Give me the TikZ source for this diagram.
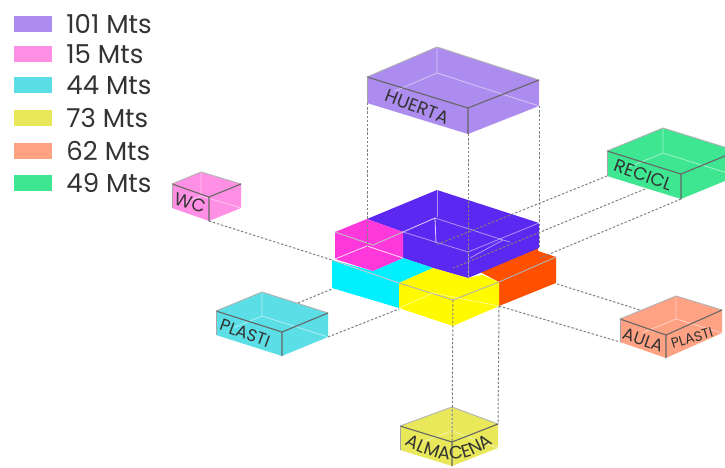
\documentclass[tikz,border=0pt]{standalone}
\usepackage{fontspec}
\setmainfont{Poppins}
\usetikzlibrary{positioning, calc, decorations.text}
\definecolor{huertacol}{HTML}{AC8CEE}
\definecolor{wccol}{HTML}{FF8FE4}
\definecolor{plasticol}{HTML}{5CDEE6}
\definecolor{almacol}{HTML}{E8E85A}
\definecolor{aulacol}{HTML}{FFA284}
\definecolor{reciclcol}{HTML}{3EE692}
\definecolor{moradofuerte}{HTML}{5A28F0}
\definecolor{rosafuerte}{HTML}{FF38DC}
\definecolor{cianfuerte}{HTML}{00F0FF}
\definecolor{amarillofuerte}{HTML}{FFFA00}
\definecolor{naranjafuerte}{HTML}{FF5000}
\definecolor{tinta}{HTML}{333333}
\tikzset{
    guia/.style={draw=black!50, line width=1pt, dash pattern=on 2.4pt off 1.8pt},
    borde/.style={draw=black!60, line width=1.1pt},
    arista/.style={draw=black!30, line width=0.9pt},
    linea/.style={draw=white, opacity=0.5, line width=0.8pt},
    muestra/.style={minimum width=38pt, minimum height=16pt, inner sep=0pt},
    leyenda/.style={text=tinta, font=\fontsize{26}{26}\selectfont, inner sep=0pt, anchor=west},
    rotulo/.style={text=tinta, font=\fontsize{#1}{#1}\selectfont, inner sep=0pt},
}
\begin{document}
\begin{tikzpicture}[x=1pt, y=-1pt]
    \useasboundingbox (0,0) rectangle (725,468);

    % legend
    \foreach \col/\y/\txt in {huertacol/24/101 Mts, wccol/54/15 Mts, plasticol/85/44 Mts, almacol/118/73 Mts, aulacol/151/62 Mts, reciclcol/183/49 Mts} {
        \node[muestra, fill=\col] (m-\col) at (33,\y) {};
        \node[leyenda, right=14pt of m-\col] (t-\col) {\txt};
    }

    % central block
    \fill[naranjafuerte] (480,272) -- (538,246) -- (538,251) -- (556,257) -- (556,283) -- (499,306) -- (499,282) -- cycle;
    \fill[moradofuerte] (437,190) -- (539,223) -- (539,248) -- (468,278) -- (433,268) -- (403,258) -- (403,232) -- (367,219) -- cycle;
    \fill[cianfuerte] (332,260) -- (373,271) -- (403,258) -- (433,268) -- (399,283) -- (399,308) -- (332,288) -- cycle;
    \fill[rosafuerte] (335,232) -- (367,219) -- (403,232) -- (403,258) -- (373,271) -- (335,259) -- cycle;
    \fill[amarillofuerte] (433,268) -- (468,278) -- (482,275) -- (499,282) -- (499,306) -- (453,326) -- (399,308) -- (399,283) -- cycle;
    \draw[linea] (437,190) -- (437,217);
    \draw[linea, opacity=0.8] (403,232) -- (435,218) -- (436,243);
    \draw[linea] (435,218) -- (503,240) -- (510,242);
    \draw[linea] (470,258) -- (503,240);
    \draw[linea] (403,232) -- (468,252) -- (539,223);
    \draw[linea] (468,252) -- (468,278);
    \draw[linea, opacity=0.8] (335,259) -- (367,246) -- (403,258);
    \draw[arista, draw=black!25] (335,232) -- (373,245) -- (403,232);
    \draw[arista, draw=black!30] (399,283) -- (453,300) -- (499,282) -- (556,257);
    \draw[linea] (399,308) -- (433,293) -- (499,306);
    \draw[arista, draw=black!20] (332,260) -- (399,283);

    % the boxes
    \foreach \nom/\col/\lx/\ly/\ax/\ay/\rx/\ry/\fx/\fy/\h in {
        huerta/huertacol/367/77/437/47/539/80/468/108/26,
        recicl/reciclcol/607/151/663/128/737/151/681/174/25,
        wc/wccol/172/184/201/172/241/184/209/197/24,
        plasti/plasticol/216/311/262/292/328/313/282/332/24,
        aula/aulacol/620/319/676/296/722/310/666/335/23,
        alma/almacol/400/426/452/407/498/424/452/442/24} {
        \coordinate (\nom-l) at (\lx,\ly);
        \coordinate (\nom-a) at (\ax,\ay);
        \coordinate (\nom-r) at (\rx,\ry);
        \coordinate (\nom-f) at (\fx,\fy);
        \coordinate (\nom-i) at (\ax,\ay+\h);
        \coordinate (\nom-bl) at (\lx,\ly+\h);
        \coordinate (\nom-br) at (\rx,\ry+\h);
        \coordinate (\nom-bf) at (\fx,\fy+\h);
        \fill[\col] (\nom-l) -- (\nom-a) -- (\nom-r) -- (\nom-br) -- (\nom-bf) -- (\nom-bl) -- cycle;
        \draw[linea] (\nom-a) -- (\nom-i) (\nom-br) -- (\nom-i) -- ($(\nom-i)!0.6!(\nom-bl)$);
        \draw[arista] (\nom-l) -- (\nom-a) -- (\nom-r);
        \draw[borde] (\nom-l) -- (\nom-f) -- (\nom-r) (\nom-f) -- (\nom-bf);
        \draw[borde, draw=black!35, line width=0.6pt] (\nom-l) -- (\nom-bl);
    }

    % points on the central block
    \coordinate (pie-huerta-l) at (367,246);
    \coordinate (pie-huerta-f) at (468,278);
    \coordinate (pie-huerta-r) at (539,248);
    \coordinate (amar-f) at (453,300);
    \coordinate (amar-r) at (499,306);
    \coordinate (cian-l) at (332,260);
    \coordinate (cian-b) at (332,289);
    \coordinate (amar-l) at (399,309);
    \coordinate (nar-r) at (557,284);
    \coordinate (nar-t) at (540,258);
    \coordinate (mor-a) at (436,245);
    \coordinate (mor-b) at (453,268);
    \coordinate (plasti-m) at (298,303);
    \coordinate (recicl-m) at (645,189);
    \coordinate (aula-m) at (640,310);

    % connectors
    \draw[guia] (huerta-bl) -- (pie-huerta-l);
    \draw[guia] (huerta-bf) -- (pie-huerta-f);
    \draw[guia] (huerta-br) -- (pie-huerta-r);
    \draw[guia] (amar-f) -- (alma-f);
    \draw[guia] (amar-r) -- (alma-r);
    \draw[guia] (wc-bf) -- (cian-l);
    \draw[guia] (plasti-m) -- (cian-b);
    \draw[guia] (plasti-br) -- (amar-l);
    \draw[guia] (recicl-bl) -- (mor-a);
    \draw[guia] (recicl-m) -- (mor-b);
    \draw[guia] (recicl-bf) -- (nar-t);
    \draw[guia] (nar-r) -- (aula-m);
    \draw[guia] (amar-r) -- (aula-bl);

    % labels
    \node[rotulo=18, rotate=-21] (l-huerta) at (417,107) {HUERTA};
    \node[rotulo=18, rotate=-20] (l-recicl) at (643,175) {RECICL};
    \node[rotulo=18, rotate=-16] (l-wc) at (190,203) {WC};
    \node[rotulo=17, rotate=-20] (l-plasti) at (245,333) {PLASTI};
    \node[rotulo=17, rotate=-19] (l-aula) at (643,340) {AULA};
    \node[rotulo=14, rotate=17] (l-plasti2) at (692,338) {PLASTI};
    \path[decorate, decoration={text along path, text align=center, text color=tinta,
        text={|\fontsize{18}{18}\selectfont|ALMACENA}}]
        (401,442) .. controls (435,463) and (465,468) .. (497,440);
\end{tikzpicture}
\end{document}
